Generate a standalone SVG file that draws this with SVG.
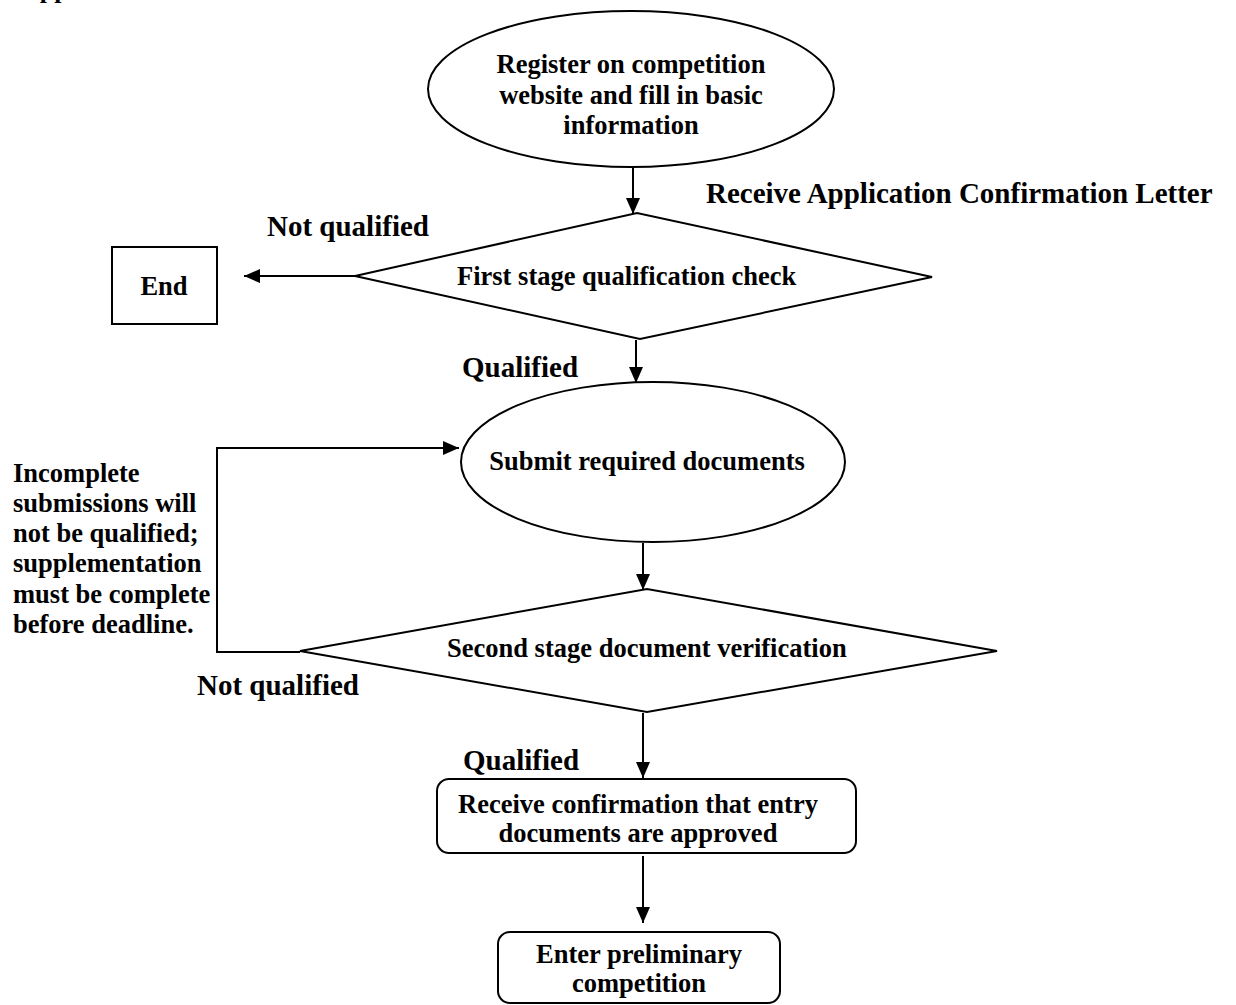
<svg xmlns="http://www.w3.org/2000/svg" width="1236" height="1005" viewBox="0 0 1236 1005">
<defs>
<style>
text{font-family:"Liberation Serif","Times New Roman",serif;font-weight:bold;fill:#000}
.n{font-size:26.5px}
.l{font-size:29px}
.m{text-anchor:middle}
.s{fill:#fff;stroke:#000;stroke-width:2}
.c{fill:none;stroke:#000;stroke-width:2}
</style>
<marker id="ah" markerUnits="userSpaceOnUse" markerWidth="18" markerHeight="16" refX="16" refY="7" orient="auto">
<path d="M0,0 L16,7 L0,14 Z" fill="#000"/>
</marker>
</defs>
<rect width="1236" height="1005" fill="#fff"/>
<text x="21" y="-2" font-size="26">Appendix</text>

<g id="connectors">
<line class="c" x1="633" y1="168" x2="633" y2="214" marker-end="url(#ah)"/>
<line class="c" x1="355" y1="276" x2="244" y2="276" marker-end="url(#ah)"/>
<line class="c" x1="636" y1="340" x2="636" y2="383" marker-end="url(#ah)"/>
<polyline class="c" points="300,652 217,652 217,448 459,448" marker-end="url(#ah)"/>
<line class="c" x1="643" y1="543" x2="643" y2="590" marker-end="url(#ah)"/>
<line class="c" x1="643" y1="713" x2="643" y2="778" marker-end="url(#ah)"/>
<line class="c" x1="643" y1="856" x2="643" y2="923" marker-end="url(#ah)"/>
</g>

<g id="register">
<ellipse class="s" cx="631" cy="89" rx="203" ry="78"/>
<text class="n m" x="631" y="73">Register on competition</text>
<text class="n m" x="631" y="104">website and fill in basic</text>
<text class="n m" x="631" y="134">information</text>
</g>

<g id="label-receive-letter">
<text class="l" x="706" y="203">Receive Application Confirmation Letter</text>
</g>

<g id="check1">
<polygon class="s" points="355,276 637,213 932,277 640,339"/>
<text class="n" x="457" y="285">First stage qualification check</text>
</g>

<g id="label-notq1"><text class="l" x="267" y="236">Not qualified</text></g>

<g id="end">
<rect class="s" x="112" y="247" width="105" height="77"/>
<text class="n m" x="164" y="295">End</text>
</g>

<g id="label-q1"><text class="l" x="462" y="377">Qualified</text></g>

<g id="submit">
<ellipse class="s" cx="653" cy="462" rx="192" ry="80"/>
<text class="n m" x="647" y="470">Submit required documents</text>
</g>

<g id="note">
<text class="n" x="13" y="482">Incomplete</text>
<text class="n" x="13" y="512">submissions will</text>
<text class="n" x="13" y="542">not be qualified;</text>
<text class="n" x="13" y="572">supplementation</text>
<text class="n" x="13" y="603">must be complete</text>
<text class="n" x="13" y="633">before deadline.</text>
</g>

<g id="check2">
<polygon class="s" points="300,651 647,589 997,651 647,712"/>
<text class="n" x="447" y="657">Second stage document verification</text>
</g>

<g id="label-notq2"><text class="l" x="197" y="695">Not qualified</text></g>
<g id="label-q2"><text class="l" x="463" y="770">Qualified</text></g>

<g id="confirm">
<rect class="s" x="437" y="779" width="419" height="74" rx="12"/>
<text class="n m" x="638" y="813">Receive confirmation that entry</text>
<text class="n m" x="638" y="842">documents are approved</text>
</g>

<g id="prelim">
<rect class="s" x="498" y="932" width="282" height="71" rx="12"/>
<text class="n m" x="639" y="963">Enter preliminary</text>
<text class="n m" x="639" y="992">competition</text>
</g>
</svg>
